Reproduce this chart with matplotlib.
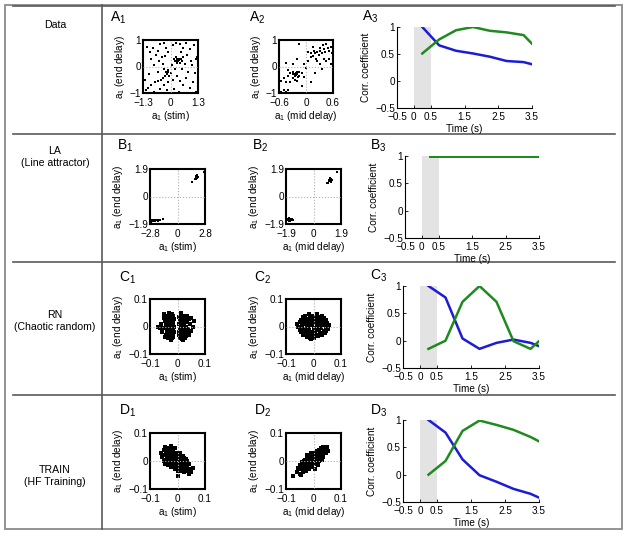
import matplotlib
matplotlib.use("Agg")
import matplotlib.pyplot as plt
from matplotlib.patches import Rectangle

plt.rcParams['font.family'] = ['Liberation Sans', 'DejaVu Sans']
plt.rcParams['mathtext.fontset'] = 'custom'
plt.rcParams['mathtext.rm'] = 'Liberation Sans'
plt.rcParams['mathtext.it'] = 'Liberation Sans'
plt.rcParams['axes.unicode_minus'] = True

W, H = 629, 536

# ---- data ----
rows = ["Data", "LA\n(Line attractor)", "RN\n(Chaotic random)", "TRAIN\n(HF Training)"]
letters = ["A", "B", "C", "D"]

t = [0.25, 0.75, 1.25, 1.75, 2.25, 2.75, 3.25, 3.5]
blue_A = [1.0, 0.66, 0.56, 0.51, 0.45, 0.37, 0.35, 0.31]
green_A = [0.51, 0.77, 0.94, 1.0, 0.93, 0.90, 0.85, 0.69]
blue_B = [1.0, 1.0, 1.0, 1.0, 1.0, 1.0, 1.0, 1.0]
green_B = [1.0, 1.0, 1.0, 1.0, 1.0, 1.0, 1.0, 1.0]
blue_C = [1.0, 0.79, 0.04, -0.15, -0.04, 0.02, -0.04, -0.10]
green_C = [-0.15, 0.0, 0.71, 1.0, 0.71, -0.01, -0.15, -0.01]
blue_D = [1.0, 0.77, 0.28, -0.01, -0.13, -0.26, -0.35, -0.42]
green_D = [0.0, 0.25, 0.80, 0.99, 0.91, 0.82, 0.69, 0.61]

A1_pts = [(-1.1, 0.75), (-0.95, 0.55), (-0.85, 0.7), (-0.7, 0.45), (-0.9, 0.3), (-0.6, 0.6),
          (-0.5, 0.85), (-0.3, 0.9), (-0.2, 0.7), (-0.4, 0.35), (-0.55, 0.2), (-0.25, 0.4),
          (-0.1, 0.55), (0.1, 0.8), (0.25, 0.9), (0.45, 0.85), (0.6, 0.7), (0.75, 0.9),
          (0.9, 0.65), (1.1, 0.8), (1.2, 0.3), (1.25, 0.35), (0.5, 0.55), (0.8, 0.45),
          (0.15, 0.3), (0.2, 0.2), (0.3, 0.3), (0.35, 0.2), (0.4, 0.25), (0.45, 0.15),
          (0.5, 0.3), (0.3, 0.15), (0.25, 0.35), (0.55, 0.2), (0.6, 0.35), (0.7, 0.1),
          (0.95, 0.2), (1.0, 0.05), (-0.3, -0.1), (-0.2, -0.2), (-0.15, -0.3), (-0.1, -0.15),
          (-0.05, -0.35), (-0.25, -0.35), (0.0, -0.25), (-0.35, -0.45), (-0.45, -0.5),
          (-0.6, -0.55), (-0.75, -0.6), (-0.9, -0.7), (-1.05, -0.8), (-1.15, -0.9),
          (-0.8, -0.95), (-0.5, -0.85), (-0.3, -0.7), (-0.1, -0.6), (0.1, -0.5), (0.3, -0.35),
          (0.45, -0.55), (0.6, -0.7), (0.75, -0.45), (0.9, -0.8), (1.05, -0.6), (1.15, -0.25),
          (0.85, -0.2), (0.55, -0.1), (0.2, -0.1), (-0.6, -0.2), (-0.8, 0.05), (-1.0, -0.3),
          (-1.2, -0.5), (-0.35, 0.1), (0.05, 0.05), (0.4, -0.95), (0.15, -0.85), (-0.15, -0.9),
          (1.2, -0.95), (-0.18, -0.25), (-0.12, -0.22), (0.38, 0.28), (0.33, 0.22)]

A2_pts = [(-0.55, -0.95), (-0.5, -0.9), (-0.45, -0.95), (-0.4, -0.9), (-0.55, -0.55), (-0.5, -0.45),
          (-0.45, -0.6), (-0.4, -0.35), (-0.35, -0.25), (-0.3, -0.3), (-0.28, -0.2), (-0.25, -0.35),
          (-0.22, -0.25), (-0.2, -0.3), (-0.18, -0.4), (-0.15, -0.2), (-0.3, -0.45), (-0.25, -0.5),
          (-0.2, -0.55), (-0.15, -0.35), (-0.1, -0.25), (-0.35, -0.6), (-0.4, -0.15), (-0.3, 0.1),
          (-0.45, 0.15), (-0.2, 0.3), (-0.15, 0.85), (-0.05, 0.1), (0.0, -0.05), (0.05, 0.2),
          (0.1, 0.35), (0.12, 0.5), (0.15, 0.4), (0.18, 0.6), (0.2, 0.5), (0.22, 0.3),
          (0.25, 0.55), (0.28, 0.45), (0.3, 0.7), (0.32, 0.6), (0.35, 0.5), (0.38, 0.8),
          (0.4, 0.65), (0.42, 0.55), (0.45, 0.85), (0.48, 0.7), (0.5, 0.6), (0.55, 0.75),
          (0.58, 0.5), (0.25, 0.2), (0.3, 0.1), (0.35, -0.1), (0.2, -0.25), (0.4, 0.3),
          (0.15, 0.75), (0.05, 0.55), (-0.05, -0.4), (0.1, -0.6), (-0.1, -0.75), (0.45, 0.2),
          (0.5, 0.3), (0.55, 0.1), (-0.27, -0.28), (-0.23, -0.32), (-0.2, -0.22)]

B1_pts = [(1.8, 1.2), (1.85, 1.3), (1.9, 1.35), (1.95, 1.25), (2.0, 1.4), (1.9, 1.45), (1.85, 1.2),
          (1.95, 1.5), (2.05, 1.35), (1.45, 0.97), (2.7, 1.67), (1.92, 1.3), (1.88, 1.4),
          (-2.65, -1.75), (-2.55, -1.68), (-2.45, -1.72), (-2.35, -1.62), (-2.25, -1.68),
          (-2.15, -1.6), (-2.05, -1.65), (-1.95, -1.6), (-1.85, -1.64), (-1.75, -1.6),
          (-2.5, -1.6), (-2.3, -1.72), (-2.6, -1.63), (-1.45, -1.55), (-2.0, -1.7)]

B2_pts = [(1.05, 1.05), (1.1, 1.15), (1.15, 1.1), (1.2, 1.2), (1.12, 1.25), (1.18, 1.0),
          (1.0, 0.95), (1.25, 1.15), (1.62, 1.72), (0.9, 0.9),
          (-1.8, -1.65), (-1.75, -1.55), (-1.7, -1.7), (-1.65, -1.6), (-1.6, -1.52),
          (-1.55, -1.65), (-1.5, -1.58), (-1.45, -1.6), (-1.72, -1.5), (-1.62, -1.72)]

C1_pts = [(-0.060, 0.010), (-0.055, -0.020), (-0.050, 0.030), (-0.048, -0.005), (-0.045, 0.020),
          (-0.042, -0.030), (-0.040, 0.040), (-0.038, 0.005), (-0.036, -0.015), (-0.035, 0.025),
          (-0.033, -0.040), (-0.032, 0.012), (-0.030, -0.025), (-0.029, 0.035), (-0.028, -0.005),
          (-0.027, 0.045), (-0.026, 0.020), (-0.025, -0.035), (-0.024, 0.000), (-0.023, -0.018),
          (-0.022, 0.030), (-0.021, 0.008), (-0.020, -0.042), (-0.019, 0.022), (-0.018, -0.010),
          (-0.017, 0.040), (-0.016, -0.028), (-0.015, 0.015), (-0.014, -0.002), (-0.013, 0.028),
          (-0.012, -0.020), (-0.030, 0.050), (-0.025, -0.048), (-0.045, -0.038), (-0.040, -0.012),
          (-0.035, 0.000), (-0.028, 0.010), (-0.022, -0.008), (-0.018, 0.005), (-0.065, -0.005),
          (-0.070, 0.000), (-0.050, 0.045), (-0.034, 0.038), (-0.020, 0.045), (-0.038, -0.028),
          (-0.015, -0.038), (-0.043, 0.008), (-0.031, -0.012), (-0.016, 0.030),
          (0.004, 0.010), (0.005, -0.030), (0.006, 0.035), (0.008, -0.010), (0.009, 0.020),
          (0.010, -0.040), (0.011, 0.000), (0.012, 0.042), (0.013, -0.022), (0.014, 0.015),
          (0.015, -0.005), (0.016, 0.030), (0.017, -0.035), (0.018, 0.005), (0.019, 0.025),
          (0.020, -0.015), (0.021, 0.040), (0.022, -0.028), (0.023, 0.010), (0.024, -0.002),
          (0.025, 0.030), (0.026, -0.040), (0.027, 0.018), (0.028, -0.012), (0.030, 0.035),
          (0.032, 0.000), (0.034, -0.025), (0.036, 0.020), (0.038, -0.008), (0.040, 0.028),
          (0.042, -0.030), (0.045, 0.010), (0.048, -0.015), (0.050, 0.030), (0.055, 0.000),
          (0.060, 0.020), (0.012, 0.050), (0.020, -0.048), (0.008, 0.025), (0.030, 0.015),
          (0.015, -0.045), (0.030, -0.035), (0.035, 0.040), (0.007, -0.020), (0.040, -0.018)]

C2_pts = [(-0.055, 0.000), (-0.050, 0.015), (-0.050, -0.012), (-0.045, 0.025), (-0.045, -0.020),
          (-0.042, 0.005), (-0.040, -0.030), (-0.038, 0.035), (-0.036, -0.008), (-0.035, 0.018),
          (-0.032, -0.025), (-0.030, 0.040), (-0.030, 0.008), (-0.028, -0.015), (-0.026, 0.028),
          (-0.025, -0.038), (-0.023, 0.000), (-0.022, 0.020), (-0.020, -0.028), (-0.018, 0.044),
          (-0.017, 0.010), (-0.015, -0.010), (-0.014, 0.032), (-0.012, -0.040), (-0.010, 0.018),
          (-0.008, -0.020), (-0.007, 0.040), (-0.005, 0.005), (-0.004, -0.032), (-0.002, 0.025),
          (0.000, -0.008), (0.002, 0.036), (0.003, -0.042), (0.005, 0.012), (0.006, -0.018),
          (0.008, 0.030), (0.010, -0.030), (0.011, 0.002), (0.013, 0.045), (0.014, -0.012),
          (0.016, 0.022), (0.018, -0.036), (0.020, 0.008), (0.022, 0.034), (0.023, -0.022),
          (0.025, 0.015), (0.027, -0.005), (0.029, 0.028), (0.031, -0.030), (0.033, 0.005),
          (0.035, 0.020), (0.037, -0.015), (0.040, 0.010), (0.042, -0.025), (0.044, 0.025),
          (0.047, -0.005), (0.050, 0.012), (0.053, -0.010), (0.056, 0.004), (-0.040, 0.012),
          (-0.020, 0.000), (0.000, 0.015), (0.020, -0.010), (0.030, 0.040), (-0.010, -0.045),
          (-0.060, 0.008), (-0.033, 0.028), (-0.012, 0.005), (0.008, -0.005), (0.038, 0.030),
          (-0.045, -0.005), (0.045, -0.018), (-0.020, -0.015), (0.015, 0.035)]

D1_pts = [(-0.060, 0.030), (-0.055, 0.015), (-0.050, 0.040), (-0.048, 0.022), (-0.045, 0.005),
          (-0.042, 0.035), (-0.040, 0.018), (-0.038, -0.005), (-0.036, 0.028), (-0.034, 0.045),
          (-0.032, 0.010), (-0.030, 0.025), (-0.028, -0.010), (-0.026, 0.038), (-0.025, 0.015),
          (-0.023, 0.000), (-0.022, 0.052), (-0.020, 0.020), (-0.018, -0.015), (-0.017, 0.032),
          (-0.015, 0.008), (-0.013, -0.005), (-0.012, 0.025), (-0.010, 0.045), (-0.009, -0.020),
          (-0.007, 0.012), (-0.005, 0.000), (-0.004, 0.030), (-0.002, -0.012), (0.000, 0.018),
          (0.002, -0.025), (0.003, 0.005), (0.005, -0.008), (0.007, 0.015), (0.008, -0.030),
          (0.010, -0.002), (0.012, -0.018), (0.014, 0.008), (0.016, -0.035), (0.018, -0.010),
          (0.020, -0.022), (0.022, 0.002), (0.024, -0.040), (0.026, -0.015), (0.028, -0.028),
          (0.030, -0.005), (0.033, -0.035), (0.036, -0.020), (0.040, -0.045), (0.045, -0.030),
          (0.050, -0.040), (0.055, -0.025), (0.000, -0.055), (-0.030, 0.000), (-0.015, 0.038),
          (0.010, 0.022), (-0.045, 0.050), (0.025, 0.012), (-0.025, 0.030), (-0.008, 0.020),
          (0.005, 0.008), (0.015, -0.020), (-0.020, 0.010), (0.020, -0.005), (-0.035, -0.015),
          (-0.025, -0.020), (0.010, 0.030), (0.020, 0.018), (0.030, 0.008), (-0.045, -0.010),
          (0.035, 0.000), (-0.010, -0.030), (0.000, -0.035), (0.040, -0.010), (-0.050, 0.000),
          (0.015, 0.015)]

D2_pts = [(-0.060, -0.040), (-0.055, -0.025), (-0.050, -0.045), (-0.048, -0.015), (-0.045, -0.030),
          (-0.042, -0.005), (-0.040, -0.038), (-0.038, -0.020), (-0.035, -0.028), (-0.033, 0.000),
          (-0.030, -0.015), (-0.028, -0.035), (-0.026, -0.005), (-0.024, -0.022), (-0.022, 0.010),
          (-0.020, -0.010), (-0.018, -0.028), (-0.016, 0.002), (-0.014, -0.015), (-0.012, 0.018),
          (-0.010, -0.005), (-0.008, 0.008), (-0.006, -0.020), (-0.004, 0.025), (-0.002, 0.002),
          (0.000, 0.015), (0.002, -0.010), (0.004, 0.030), (0.006, 0.005), (0.008, 0.020),
          (0.010, -0.002), (0.012, 0.035), (0.014, 0.012), (0.016, 0.025), (0.018, 0.002),
          (0.020, 0.040), (0.022, 0.018), (0.024, 0.030), (0.026, 0.008), (0.028, 0.045),
          (0.030, 0.022), (0.033, 0.035), (0.036, 0.015), (0.040, 0.040), (0.044, 0.028),
          (0.048, 0.050), (0.052, 0.035), (-0.075, -0.055), (-0.025, 0.020), (0.005, -0.030),
          (0.020, 0.000), (-0.010, 0.030), (0.035, 0.050), (-0.045, -0.050), (-0.015, -0.002),
          (0.000, 0.000), (0.010, 0.010), (-0.030, -0.025), (0.025, 0.020), (-0.005, 0.012),
          (-0.030, 0.005), (0.015, -0.015), (0.030, 0.005), (-0.040, -0.010), (0.010, 0.025)]

scatter_pts = [[A1_pts, A2_pts], [B1_pts, B2_pts], [C1_pts, C2_pts], [D1_pts, D2_pts]]
scatter_lims = [[(1.3, 1.0), (0.6, 1.0)], [(2.8, 1.9), (1.9, 1.9)],
                [(0.1, 0.1), (0.1, 0.1)], [(0.1, 0.1), (0.1, 0.1)]]
scatter_xlabels = [r"a$_1$ (stim)", r"a$_1$ (mid delay)"]
line_data = [(blue_A, green_A), (blue_B, green_B), (blue_C, green_C), (blue_D, green_D)]

# ---- layout (pixel boxes: x0, x1, y0, y1) ----
sc_boxes = [[(143, 198, 40, 93), (279, 333, 40, 93)],
            [(150, 205, 169, 224), (286, 341, 169, 224)],
            [(150, 205, 299, 354), (286, 341, 299, 354)],
            [(150, 205, 433, 489), (286, 341, 433, 489)]]
ln_boxes = [(397, 532, 27, 108), (405, 539, 156, 238), (403, 539, 286, 368), (403, 539, 420, 502)]
lab_pos = [[(110, 18), (249, 18), (362, 17)],
           [(117, 146), (252, 146), (370, 146)],
           [(119, 278), (254, 278), (370, 276)],
           [(119, 411), (254, 411), (370, 411)]]
row_label_y = [25, 157, 321, 476]
dot_size = [1.9, 1.9, 3.0, 3.0]


def rect(b):
    x0, x1, y0, y1 = b
    return [x0 / W, 1 - y1 / H, (x1 - x0) / W, (y1 - y0) / H]


def fmt(v):
    if v == 0:
        return "0"
    s = ("%g" % v)
    return s.replace("-", "\u2212")


fig = plt.figure(figsize=(W / 100, H / 100), dpi=100)
fs = 7.2

# frame and table lines
bg = fig.add_axes([0, 0, 1, 1])
bg.set_xlim(0, W)
bg.set_ylim(H, 0)
bg.axis("off")
bg.add_patch(Rectangle((5, 5), 617, 524, fill=False, ec="#8a8a8a", lw=1.3))
for yy in [134, 262, 395]:
    bg.plot([13, 615], [yy, yy], color="#5a5a5a", lw=1.2)
bg.plot([13, 615], [5.5, 5.5], color="#5a5a5a", lw=1.2)
bg.plot([102, 102], [5, 529], color="#5a5a5a", lw=1.2)

for r in range(4):
    bg.text(55, row_label_y[r], rows[r], ha="center", va="center", fontsize=7.6, linespacing=1.15)
    for c in range(3):
        px, py = lab_pos[r][c]
        bg.text(px, py, r"%s$_%d$" % (letters[r], c + 1), fontsize=10, va="center", ha="left")

    for c in range(2):
        ax = fig.add_axes(rect(sc_boxes[r][c]))
        xl, yl = scatter_lims[r][c]
        pts = scatter_pts[r][c]
        ax.plot([p[0] for p in pts], [p[1] for p in pts], "s", color="k", ms=dot_size[r], mew=0)
        ax.axvline(0, color="#b0b0b0", ls=":", lw=0.8, zorder=3)
        ax.axhline(0, color="#b0b0b0", ls=":", lw=0.8, zorder=3)
        ax.set_xlim(-xl, xl)
        ax.set_ylim(-yl, yl)
        ax.set_xticks([-xl, 0, xl])
        ax.set_yticks([-yl, 0, yl])
        ax.set_xticklabels([fmt(-xl), "0", fmt(xl)])
        ax.set_yticklabels([fmt(-yl), "0", fmt(yl)])
        ax.tick_params(direction="in", length=0, labelsize=fs)
        ax.tick_params(axis="x", pad=3.5)
        ax.tick_params(axis="y", pad=1.5)
        for sp in ax.spines.values():
            sp.set_linewidth(1.5)
        ax.set_xlabel(scatter_xlabels[c], fontsize=fs, labelpad=1)
        ax.set_ylabel(r"a$_1$ (end delay)", fontsize=fs, labelpad=2)

    ax = fig.add_axes(rect(ln_boxes[r]))
    ax.axvspan(0, 0.5, color="#e3e3e3", lw=0)
    b, g = line_data[r]
    ax.plot(t, b, color="#1c1cd6", lw=1.8)
    ax.plot(t, g, color="#1f8a1f", lw=1.8)
    ax.set_xlim(-0.5, 3.5)
    ax.set_ylim(-0.5, 1)
    ax.set_xticks([-0.5, 0, 0.5, 1.5, 2.5, 3.5])
    ax.set_xticklabels([fmt(v) for v in [-0.5, 0, 0.5, 1.5, 2.5, 3.5]])
    ax.set_yticks([-0.5, 0, 0.5, 1])
    ax.set_yticklabels([fmt(v) for v in [-0.5, 0, 0.5, 1]])
    ax.spines["top"].set_visible(False)
    ax.spines["right"].set_visible(False)
    ax.spines["left"].set_linewidth(0.8)
    ax.spines["bottom"].set_linewidth(0.8)
    ax.tick_params(direction="in", length=2.5, width=0.6, labelsize=fs)
    ax.tick_params(axis="x", pad=3)
    ax.tick_params(axis="y", pad=1.5)
    ax.set_xlabel("Time (s)", fontsize=fs, labelpad=1)
    ax.set_ylabel("Corr. coefficient", fontsize=fs, labelpad=3)

fig.savefig("out.png", dpi=100)
